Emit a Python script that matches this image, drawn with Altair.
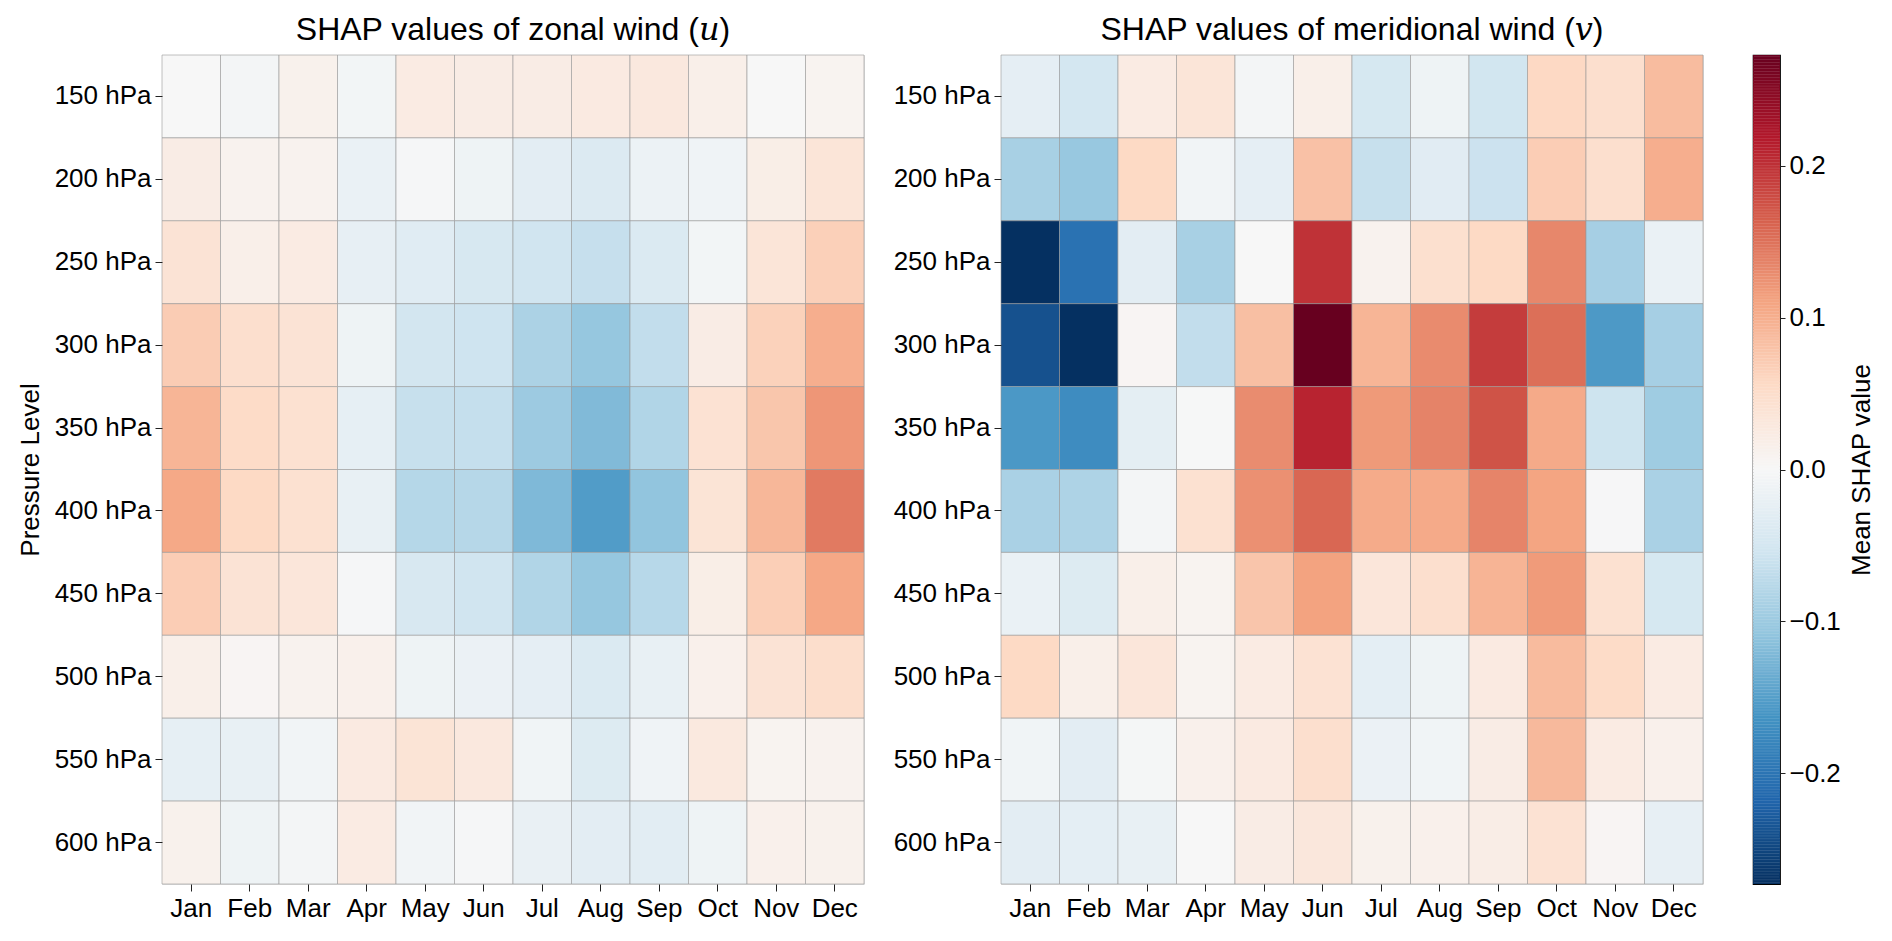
import altair as alt
import pandas as pd

months = ["Jan", "Feb", "Mar", "Apr", "May", "Jun", "Jul", "Aug", "Sep", "Oct", "Nov", "Dec"]
levels = ["150 hPa", "200 hPa", "250 hPa", "300 hPa", "350 hPa",
          "400 hPa", "450 hPa", "500 hPa", "550 hPa", "600 hPa"]

# Mean SHAP values of zonal wind (u), one list per pressure level (Jan..Dec)
u_values = [
    [0.000, -0.006, 0.012, -0.007, 0.023, 0.021, 0.021, 0.025, 0.029, 0.016, 0.000, 0.008],
    [0.021, 0.010, 0.010, -0.019, -0.003, -0.013, -0.029, -0.039, -0.016, -0.011, 0.018, 0.035],
    [0.039, 0.016, 0.023, -0.023, -0.033, -0.046, -0.055, -0.064, -0.040, -0.007, 0.035, 0.066],
    [0.070, 0.047, 0.039, -0.013, -0.052, -0.056, -0.087, -0.106, -0.068, 0.021, 0.064, 0.100],
    [0.093, 0.053, 0.043, -0.024, -0.063, -0.065, -0.100, -0.121, -0.082, 0.041, 0.076, 0.121],
    [0.105, 0.056, 0.043, -0.022, -0.079, -0.078, -0.122, -0.154, -0.109, 0.037, 0.091, 0.143],
    [0.069, 0.039, 0.033, -0.003, -0.045, -0.055, -0.082, -0.106, -0.077, 0.018, 0.067, 0.106],
    [0.016, 0.005, 0.010, 0.014, -0.013, -0.017, -0.026, -0.040, -0.022, 0.014, 0.039, 0.049],
    [-0.024, -0.022, -0.009, 0.025, 0.037, 0.029, -0.010, -0.037, -0.011, 0.027, 0.008, 0.010],
    [0.012, -0.013, -0.006, 0.023, -0.009, -0.003, -0.020, -0.029, -0.030, -0.013, 0.014, 0.012],
]

# Mean SHAP values of meridional wind (v), one list per pressure level (Jan..Dec)
v_values = [
    [-0.026, -0.050, 0.023, 0.035, -0.006, 0.016, -0.047, -0.013, -0.053, 0.057, 0.047, 0.086],
    [-0.090, -0.104, 0.056, -0.009, -0.026, 0.081, -0.063, -0.032, -0.059, 0.069, 0.047, 0.100],
    [-0.273, -0.204, -0.029, -0.090, 0.000, 0.199, 0.010, 0.045, 0.056, 0.133, -0.092, -0.019],
    [-0.240, -0.273, 0.005, -0.068, 0.083, 0.273, 0.093, 0.130, 0.191, 0.152, -0.157, -0.092],
    [-0.158, -0.172, -0.028, -0.001, 0.129, 0.210, 0.118, 0.136, 0.174, 0.104, -0.057, -0.098],
    [-0.088, -0.085, -0.006, 0.043, 0.126, 0.158, 0.103, 0.104, 0.135, 0.109, -0.002, -0.088],
    [-0.019, -0.037, 0.016, 0.008, 0.077, 0.111, 0.033, 0.047, 0.094, 0.117, 0.043, -0.047],
    [0.056, 0.016, 0.033, 0.008, 0.023, 0.041, -0.027, -0.013, 0.025, 0.087, 0.053, 0.023],
    [-0.010, -0.029, -0.004, 0.014, 0.025, 0.047, -0.017, -0.010, 0.021, 0.089, 0.023, 0.014],
    [-0.029, -0.027, -0.022, 0.000, 0.021, 0.031, 0.012, 0.014, 0.019, 0.041, 0.005, -0.023],
]

cbar_ticks = [-0.2, -0.1, 0.0, 0.1, 0.2]
cmin, cmax = -0.273, 0.273

# RdBu_r colour stops (ColorBrewer 11-class, reversed: blue -> red)
rdbu_r = ["#053061", "#2166ac", "#4393c3", "#92c5de", "#d1e5f0", "#f7f7f7",
          "#fddbc7", "#f4a582", "#d6604d", "#b2182b", "#67001f"]

FONT = "Liberation Sans"
TITLE_FONT = "Liberation Sans, DejaVu Serif"
LABEL_SIZE = 26


def long_df(vals):
    rows = []
    for lvl, row in zip(levels, vals):
        for m, val in zip(months, row):
            rows.append({"Level": lvl, "Month": m, "value": val})
    return pd.DataFrame(rows)


n_stops = len(rdbu_r)
stops = [cmin + (cmax - cmin) * i / (n_stops - 1) for i in range(n_stops)]
color_scale = alt.Scale(domain=stops, range=rdbu_r, interpolate="rgb")


def heat(vals, title, ytitle):
    yaxis = alt.Axis(title=ytitle, labelFontSize=LABEL_SIZE, labelFont=FONT, labelPadding=4,
                     tickSize=7, tickColor="#222222", domain=False,
                     titleFont=FONT, titleFontSize=26, titleFontWeight="normal",
                     titlePadding=11, titleColor="black", labelColor="black")
    return alt.Chart(long_df(vals)).mark_rect(stroke="#999999", strokeWidth=0.6).encode(
        x=alt.X("Month:N", sort=months,
                scale=alt.Scale(paddingInner=0, paddingOuter=0),
                axis=alt.Axis(title=None, labelAngle=0, labelFontSize=LABEL_SIZE, labelFont=FONT,
                              labelPadding=4, tickSize=7, tickColor="#222222",
                              domain=False, labelColor="black")),
        y=alt.Y("Level:N", sort=levels,
                scale=alt.Scale(paddingInner=0, paddingOuter=0),
                axis=yaxis),
        color=alt.Color("value:Q", scale=color_scale, legend=None),
    ).properties(
        width=702, height=829,
        title=alt.TitleParams(title, fontSize=32, font=TITLE_FONT, fontWeight="normal",
                              color="black", offset=8),
    )


left = heat(u_values, "SHAP values of zonal wind (𝑢)", "Pressure Level")
right = heat(v_values, "SHAP values of meridional wind (𝑣)", None)

cbar = alt.Chart(
    alt.sequence(start=cmin, stop=cmax + 0.0005, step=0.001, as_="v")
).transform_calculate(
    v2="datum.v + 0.0012"
).mark_rect(clip=True).encode(
    y=alt.Y("v:Q", scale=alt.Scale(domain=[cmin, cmax], nice=False, zero=False),
            axis=alt.Axis(orient="right", values=cbar_ticks, format=".1f",
                          title="Mean SHAP value", titleAngle=270, titleFont=FONT,
                          titleFontSize=26, titleFontWeight="normal", titlePadding=34,
                          titleColor="black", labelFontSize=LABEL_SIZE, labelFont=FONT,
                          labelColor="black", labelPadding=4, tickSize=5,
                          tickColor="#222222", domain=False, grid=False)),
    y2="v2:Q",
    color=alt.Color("v:Q", scale=color_scale, legend=None),
).properties(
    width=27, height=829,
    title=alt.TitleParams(" ", fontSize=32, font=TITLE_FONT, offset=8),
    view=alt.ViewBackground(stroke="black", strokeWidth=1.2),
)

chart = alt.hconcat(
    alt.hconcat(left, right, spacing=27),
    cbar,
    spacing=48,
).configure_view(
    strokeWidth=0
).configure(
    font=FONT
).properties(
    padding={"left": 8, "top": 5, "right": 5, "bottom": 5}
)

chart.save("out.html", embed_options={"renderer": "svg", "actions": False})
